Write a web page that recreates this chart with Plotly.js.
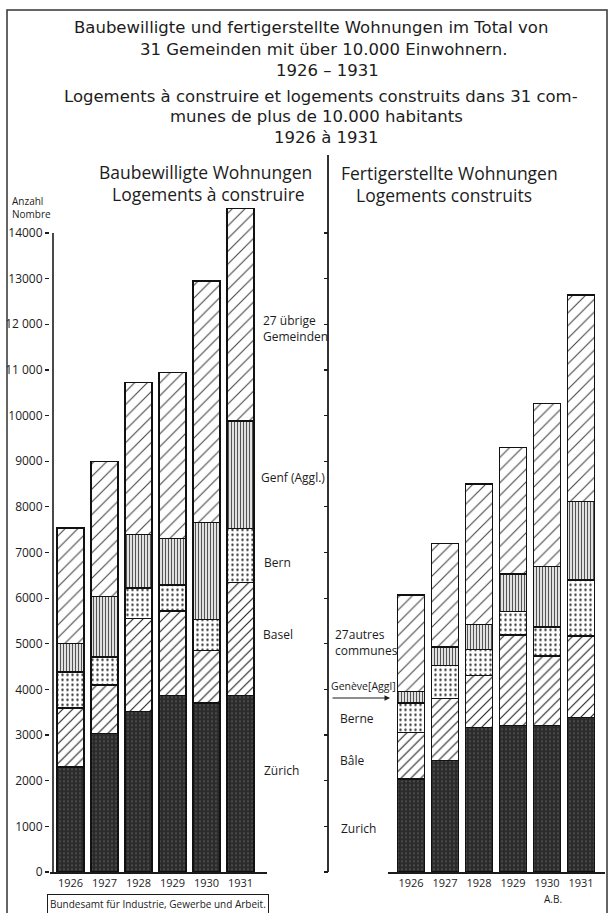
<!DOCTYPE html>
<html>
<head>
<meta charset="utf-8">
<script src="https://cdn.plot.ly/plotly-3.0.1.min.js"></script>
<style>
html,body{margin:0;padding:0;background:#fff;}
#chart{width:609px;height:913px;}
</style>
</head>
<body>
<div id="chart"></div>
<script>
// ---------- DATA ----------
const years = ['1926','1927','1928','1929','1930','1931'];

// Baubewilligte Wohnungen / Logements à construire
const permZurich = [2300, 3040, 3510, 3860, 3700, 3860];
const permBasel  = [1290, 1060, 2050, 1860, 1150, 2490];
const permBern   = [ 790,  610,  660,  570,  680, 1170];
const permGenf   = [ 620, 1330, 1170, 1010, 2130, 2360];
const permOther  = [2540, 2960, 3330, 3650, 5290, 4650];

// Fertigerstellte Wohnungen / Logements construits
const doneZurich = [2040, 2440, 3160, 3210, 3210, 3380];
const doneBasel  = [1020, 1360, 1150, 1980, 1520, 1790];
const doneBern   = [ 640,  730,  570,  510,  640, 1230];
const doneGenf   = [ 260,  400,  540,  830, 1330, 1720];
const doneOther  = [2110, 2260, 3080, 2770, 3560, 4520];

const yTickVals = [0,1000,2000,3000,4000,5000,6000,7000,8000,9000,10000,11000,12000,13000,14000];
const yTickText = ['0','1000','2000','3000','4000','5000','6000','7000','8000','9000','10000','11 000','12 000','13000','14000'];

const seriesDE = ['Zürich','Basel','Bern','Genf (Aggl.)','27 übrige<br>Gemeinden'];
const seriesFR = ['Zurich','Bâle','Berne','Genève[Aggl]','27autres<br>communes'];

const titleLines = [
  'Baubewilligte und fertigerstellte Wohnungen im Total von',
  '31 Gemeinden mit über 10.000 Einwohnern.',
  '1926 – 1931',
  'Logements à construire et logements construits dans 31 com-',
  'munes de plus de 10.000 habitants',
  '1926 à 1931'
];
const panelLeft = ['Baubewilligte Wohnungen','Logements à construire'];
const panelRight = ['Fertigerstellte Wohnungen','Logements construits'];
const source = 'Bundesamt für Industrie, Gewerbe und Arbeit.';
const signature = 'A.B.';
const axisTitle = 'Anzahl<br>Nombre';

// ---------- LAYOUT HELPERS ----------
const W = 609, H = 913;
const px = x => x / W;
const py = y => 1 - y / H;
const INK = '#1c1c1c';
const FONT = 'Open Sans, DejaVu Sans, sans-serif';
const TFONT = 'DejaVu Sans, Open Sans, sans-serif';

const base = 872, top14 = 233;
const perUnit = (base - top14) / 14000;
const yMax = 15000;
const yTopPx = base - yMax * perUnit;

const styles = [
  {color:'#2e2e2e', pattern:{shape:'.', fgcolor:'#6a6a6a', bgcolor:'#2a2a2a', size:4, solidity:0.25, fillmode:'overlay'}},
  {color:'#ffffff', pattern:{shape:'/', fgcolor:'#222', bgcolor:'#ffffff', size:7, solidity:0.16}},
  {color:'#ffffff', pattern:{shape:'.', fgcolor:'#333', bgcolor:'#ffffff', size:5, solidity:0.18}},
  {color:'#ffffff', pattern:{shape:'|', fgcolor:'#555', bgcolor:'#ffffff', size:3, solidity:0.45}},
  {color:'#ffffff', pattern:{shape:'/', fgcolor:'#444', bgcolor:'#ffffff', size:9, solidity:0.12}}
];

function makeTrace(vals, i, xa, ya, name) {
  return {
    type:'bar', x: years, y: vals, xaxis: xa, yaxis: ya, name: name,
    marker: {color: styles[i].color, pattern: styles[i].pattern, line:{color:'#111', width:1.3}},
    hoverinfo:'skip', showlegend:false
  };
}

const leftSeries = [permZurich, permBasel, permBern, permGenf, permOther];
const rightSeries = [doneZurich, doneBasel, doneBern, doneGenf, doneOther];
const traces = [];
leftSeries.forEach((v,i)=>traces.push(makeTrace(v,i,'x','y',seriesDE[i])));
rightSeries.forEach((v,i)=>traces.push(makeTrace(v,i,'x2','y2',seriesFR[i])));

const step = 34;
const leftC0 = 70.5, rightC0 = 411;

function txt(t, x, y, size, xa, extra, fam) {
  return Object.assign({text:t, x:px(x), y:py(y), xref:'paper', yref:'paper', showarrow:false,
    xanchor:xa||'center', yanchor:'middle', align:(xa==='left'?'left':'center'),
    font:{family:fam||FONT, size:size, color:INK}}, extra||{});
}

const ann = [];
const titleY = [28,49.5,70.5,97,117,137.5];
const titleX = [311,324,327,321,316,326];
titleLines.forEach((t,i)=>ann.push(txt(t, titleX[i], titleY[i], 16.5, 'center', null, TFONT)));
ann.push(txt(panelLeft[0], 206, 172, 17.5));
ann.push(txt(panelLeft[1], 208, 194, 17.5));
ann.push(txt(panelRight[0], 449, 173, 17.5));
ann.push(txt(panelRight[1], 444, 195, 17.5));
ann.push(txt(axisTitle, 10, 207, 10, 'left'));

// series labels, left panel (German)
const deX = [262,261,262,259,261], deY = [770,634,562,477,328];
seriesDE.forEach((t,i)=>ann.push(txt(t, deX[i], deY[i], 12, 'left')));
// series labels, right panel (French)
const frX = [339,338,338,329,333], frY = [828,760,718,686,642];
const frSize = [12,12,12,10.5,12];
seriesFR.forEach((t,i)=>ann.push(txt(t, frX[i], frY[i], frSize[i], 'left')));
// Genève arrow
ann.push({text:'', x:px(390), y:py(698), xref:'paper', yref:'paper', showarrow:true, ax:-59, ay:0,
  arrowhead:2, arrowsize:1, arrowwidth:1.1, arrowcolor:INK});

ann.push(txt(source, 158, 904, 10, 'center', {bordercolor:INK, borderwidth:1, borderpad:2, bgcolor:'#fff'}));
ann.push(txt(signature, 553, 899, 10));

const shapes = [
  {type:'rect', xref:'paper', yref:'paper', x0:px(7), x1:px(607), y0:py(930), y1:py(10), line:{color:'#333', width:1.5}},
  {type:'line', xref:'paper', yref:'y', x0:px(53), x1:px(53), y0:0, y1:14000, line:{color:INK, width:1.6}},
  {type:'line', xref:'paper', yref:'paper', x0:px(328), x1:px(328), y0:py(872), y1:py(155), line:{color:INK, width:1.8}}
];

const yCommon = {range:[0,yMax], domain:[py(base), py(yTopPx)], showgrid:false, zeroline:false, fixedrange:true};
const layout = {
  width:W, height:H, margin:{l:0,r:0,t:0,b:0},
  paper_bgcolor:'#fff', plot_bgcolor:'rgba(0,0,0,0)',
  barmode:'stack', bargap:0.2, showlegend:false,
  font:{family:FONT, color:INK},
  xaxis:{domain:[px(50),px(267)], anchor:'y', type:'category',
    range:[(50-leftC0)/step,(267-leftC0)/step], showline:true, linecolor:INK, linewidth:1.6,
    ticks:'', showgrid:false, tickfont:{size:11,color:INK}, fixedrange:true},
  yaxis:Object.assign({}, yCommon, {anchor:'x', tickmode:'array', tickvals:yTickVals, ticktext:yTickText,
    ticks:'outside', ticklen:4, tickcolor:INK, tickwidth:1.2, showline:false, tickfont:{size:12,color:INK}}),
  xaxis2:{domain:[px(388),px(605)], anchor:'y2', type:'category',
    range:[(388-rightC0)/step,(605-rightC0)/step], showline:true, linecolor:INK, linewidth:1.6,
    ticks:'', showgrid:false, tickfont:{size:11,color:INK}, fixedrange:true},
  yaxis2:Object.assign({}, yCommon, {anchor:'free', position:px(328), tickmode:'array', tickvals:yTickVals,
    showticklabels:false, ticks:'outside', ticklen:4, tickcolor:INK, tickwidth:1.2, showline:false}),
  yaxis3:Object.assign({}, yCommon, {anchor:'free', overlaying:'y2', side:'right', position:px(328), tickmode:'array', tickvals:yTickVals,
    showticklabels:false, ticks:'outside', ticklen:4, tickcolor:INK, tickwidth:1.2, showline:false}),
  annotations:ann, shapes:shapes
};

Plotly.newPlot('chart', traces, layout, {staticPlot:true, displayModeBar:false});
</script>
</body>
</html>
